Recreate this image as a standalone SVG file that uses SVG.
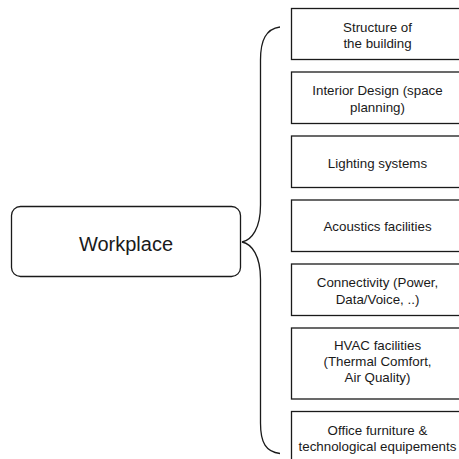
<svg xmlns="http://www.w3.org/2000/svg" width="459" height="459" viewBox="0 0 459 459">
<style>
.box{fill:#fff;stroke:#1a1a1a;stroke-width:1.3}
.t{font-family:"Liberation Sans",Arial,sans-serif;font-size:13.33px;fill:#1a1a1a;text-anchor:middle}
.big{font-size:20px}
.con{fill:none;stroke:#1a1a1a;stroke-width:1.3}
</style>
<rect width="459" height="459" fill="#fff"/>
<g id="workplace">
<rect class="box" x="11.5" y="206.5" width="229" height="70" rx="9"/>
<text class="t big" x="126" y="250.5">Workplace</text>
</g>
<g id="connectors">
<path class="con" d="M 280 27 C 266 29, 260.5 40, 260.5 60 L 260.5 205 C 260.5 228, 252 240, 242 242 C 252 244, 260.5 256, 260.5 279 L 260.5 423 C 260.5 443, 266 452, 280 453.5"/>
</g>
<g id="n1">
<rect class="box" x="291.5" y="8.5" width="172" height="51"/>
<text class="t" x="377.5" y="31.5">Structure of</text>
<text class="t" x="377.5" y="47.5">the building</text>
</g>
<g id="n2">
<rect class="box" x="291.5" y="72" width="172" height="51.5"/>
<text class="t" x="377.5" y="95">Interior Design (space</text>
<text class="t" x="377.5" y="111.5">planning)</text>
</g>
<g id="n3">
<rect class="box" x="291.5" y="136" width="172" height="51.5"/>
<text class="t" x="377.5" y="167.5">Lighting systems</text>
</g>
<g id="n4">
<rect class="box" x="291.5" y="200" width="172" height="51.5"/>
<text class="t" x="377.5" y="230.5">Acoustics facilities</text>
</g>
<g id="n5">
<rect class="box" x="291.5" y="264" width="172" height="51.5"/>
<text class="t" x="377.5" y="287">Connectivity (Power,</text>
<text class="t" x="377.5" y="304">Data/Voice, ..)</text>
</g>
<g id="n6">
<rect class="box" x="291.5" y="328" width="172" height="71"/>
<text class="t" x="377.5" y="349.5">HVAC facilities</text>
<text class="t" x="377.5" y="365.5">(Thermal Comfort,</text>
<text class="t" x="377.5" y="381.5">Air Quality)</text>
</g>
<g id="n7">
<rect class="box" x="291.5" y="411.5" width="172" height="60"/>
<text class="t" x="377.5" y="434.5">Office furniture &amp;</text>
<text class="t" x="377.5" y="450.5">technological equipements</text>
</g>
</svg>
